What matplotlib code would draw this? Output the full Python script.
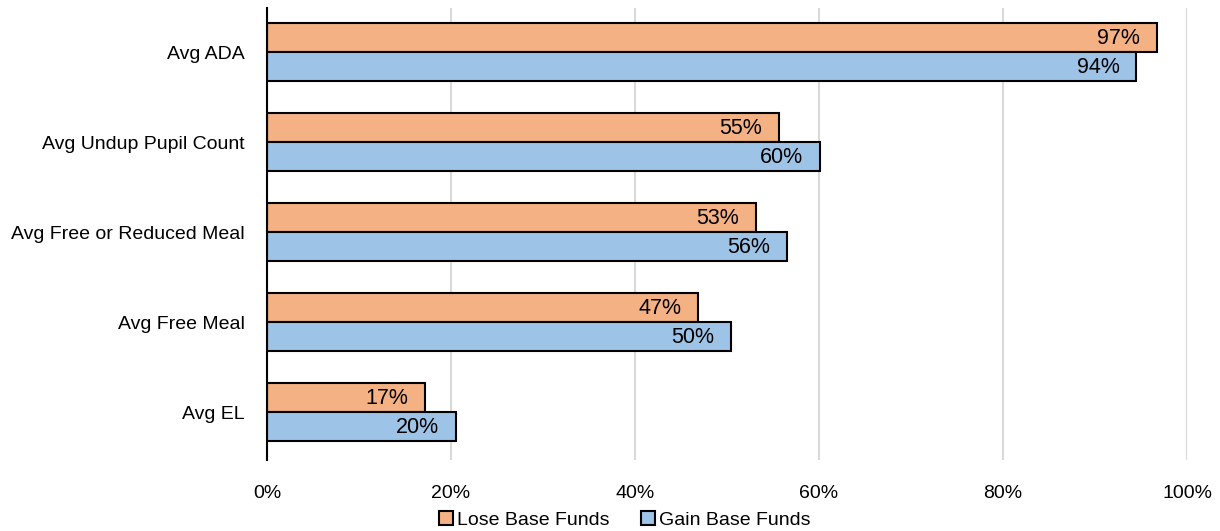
import matplotlib.pyplot as plt
import numpy as np
from matplotlib.ticker import PercentFormatter

plt.rcParams['font.family'] = ['Liberation Sans', 'DejaVu Sans']

categories = ['Avg ADA', 'Avg Undup Pupil Count', 'Avg Free or Reduced Meal',
              'Avg Free Meal', 'Avg EL']
lose = [0.967, 0.556, 0.531, 0.468, 0.172]
gain = [0.945, 0.601, 0.565, 0.504, 0.205]
lose_labels = ['97%', '55%', '53%', '47%', '17%']
gain_labels = ['94%', '60%', '56%', '50%', '20%']

fig = plt.figure(figsize=(12.2, 5.31), dpi=100)
ax = fig.add_axes([0.2189, 0.134, 0.7541, 0.851])

y = np.arange(len(categories))
h = 0.325
b1 = ax.barh(y - h / 2, lose, height=h, color='#F4B183', edgecolor='black',
             linewidth=1.5, label='Lose Base Funds', zorder=3)
b2 = ax.barh(y + h / 2, gain, height=h, color='#9DC3E6', edgecolor='black',
             linewidth=1.5, label='Gain Base Funds', zorder=3)

# value labels sit inside the bar end, slightly condensed like the source
for bars, labs in ((b1, lose_labels), (b2, gain_labels)):
    for bar, lab in zip(bars, labs):
        ax.text(bar.get_width() - 0.018, bar.get_y() + bar.get_height() / 2 + 0.01, lab,
                ha='right', va='center', fontsize=15.5, color='black', zorder=4,
                family=['Liberation Sans Narrow', 'Liberation Sans'])

ax.set_ylim(len(categories) - 0.47, -0.49)
ax.set_yticks(y)
ax.set_yticklabels(categories, fontsize=14)
ax.set_xlim(0, 1.0)
ax.set_xticks(np.arange(0, 1.01, 0.2))
ax.xaxis.set_major_formatter(PercentFormatter(1.0, decimals=0))
ax.tick_params(axis='x', labelsize=14, length=0, pad=18)
ax.tick_params(axis='y', length=0, pad=16)
ax.grid(axis='x', color='#d9d9d9', linewidth=1.5, zorder=0)
for s in ['top', 'right', 'bottom']:
    ax.spines[s].set_visible(False)
ax.spines['left'].set_linewidth(1.5)
ax.spines['left'].set_zorder(5)

fig.legend(loc='lower center', bbox_to_anchor=(0.512, -0.029), ncol=2, frameon=False,
           fontsize=14, handlelength=0.75, handleheight=0.75, handletextpad=0.2,
           columnspacing=1.6)

fig.savefig('out.png', dpi=100)
